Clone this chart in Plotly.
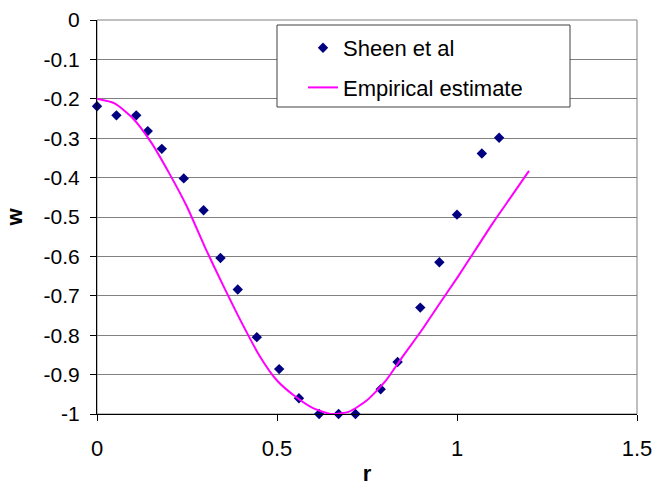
import plotly.graph_objects as go

# Sheen et al data points
sheen_r = [0.0, 0.054, 0.109, 0.141, 0.180, 0.241, 0.296, 0.343, 0.391, 0.444,
           0.506, 0.561, 0.617, 0.671, 0.718, 0.788, 0.835, 0.898, 0.951, 1.0,
           1.069, 1.117]
sheen_w = [-0.219, -0.242, -0.242, -0.282, -0.327, -0.402, -0.483, -0.604, -0.684, -0.805,
           -0.886, -0.960, -1.0, -1.0, -1.0, -0.937, -0.868, -0.730, -0.615, -0.494,
           -0.339, -0.299]

# Empirical estimate curve
emp_r = [0.0, 0.05, 0.1, 0.15, 0.2, 0.25, 0.3, 0.35, 0.4, 0.45, 0.5, 0.55, 0.6,
         0.65, 0.7, 0.75, 0.8, 0.85, 0.9, 0.95, 1.0, 1.05, 1.1, 1.15, 1.2]
emp_w = [-0.2, -0.212, -0.25, -0.31, -0.388, -0.474, -0.577, -0.673, -0.765, -0.85,
         -0.915, -0.955, -0.985, -1.0, -0.994, -0.965, -0.918, -0.853, -0.790, -0.722,
         -0.655, -0.585, -0.515, -0.449, -0.383]

x_ticks = [0, 0.5, 1, 1.5]
y_ticks = [0, -0.1, -0.2, -0.3, -0.4, -0.5, -0.6, -0.7, -0.8, -0.9, -1]

font = "Liberation Sans, Arial, sans-serif"

L, R, T, B = 97, 637, 20, 414
W, H = 653, 495
pw, ph = R - L, B - T

fig = go.Figure()
fig.add_trace(go.Scatter(
    x=sheen_r, y=sheen_w, mode="markers", name="Sheen et al",
    marker=dict(symbol="diamond", size=8, color="#000080"),
    cliponaxis=False, legendgroup="a",
))
fig.add_trace(go.Scatter(
    x=emp_r, y=emp_w, mode="lines", name="Empirical estimate",
    line=dict(color="#ff00ff", width=2, shape="spline", smoothing=0.6),
    legendgroup="b",
))

fig.update_layout(
    width=W, height=H,
    margin=dict(l=L, r=W - R, t=T, b=H - B),
    paper_bgcolor="white", plot_bgcolor="white",
    font=dict(family=font, color="black"),
    showlegend=True,
    legend=dict(
        x=(303 - L) / pw, y=1 - (27 - T) / ph,
        xanchor="left", yanchor="top",
        bgcolor="rgba(0,0,0,0)", borderwidth=0,
        font=dict(size=22, family=font),
        itemwidth=30, tracegroupgap=8,
    ),
    shapes=[
        dict(type="rect", xref="paper", yref="paper", x0=0, y0=0, x1=1, y1=1,
             line=dict(color="#808080", width=1), layer="below"),
        dict(type="rect", xref="paper", yref="paper",
             x0=(277 - L) / pw, x1=(570 - L) / pw,
             y0=1 - (107 - T) / ph, y1=1 - (25 - T) / ph,
             line=dict(color="#404040", width=1), fillcolor="white", layer="above"),
    ],
)
fig.update_xaxes(
    range=[0, 1.5], tickvals=x_ticks, ticktext=[f"{v:g}" for v in x_ticks],
    showgrid=False, zeroline=False, automargin=False,
    showline=True, linecolor="black", linewidth=1,
    ticks="outside", ticklen=6, tickcolor="black",
    tickfont=dict(size=22, family=font),
    ticklabelstandoff=9,
    title=dict(text="<b>r</b>", font=dict(size=22, family=font), standoff=5),
)
fig.update_yaxes(
    range=[-1, 0], tickvals=y_ticks, ticktext=[f"{v:g}" for v in y_ticks],
    showgrid=True, gridcolor="#808080", gridwidth=1,
    zeroline=False, automargin=False,
    showline=True, linecolor="black", linewidth=1,
    ticks="outside", ticklen=6, tickcolor="black",
    tickfont=dict(size=21, family=font),
    ticklabelstandoff=6,
    title=dict(text="<b>w</b>", font=dict(size=22, family=font), standoff=14),
)

fig.write_html("out.html")
